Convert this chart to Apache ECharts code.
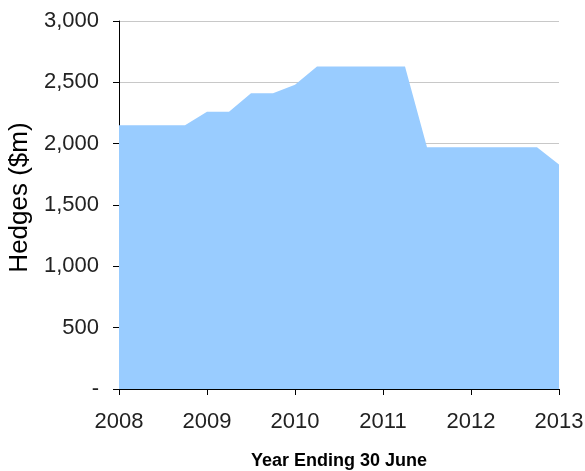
<!DOCTYPE html>
<html>
<head>
<meta charset="utf-8">
<script src="https://cdn.jsdelivr.net/npm/echarts@6/dist/echarts.min.js"></script>
<style>
  html, body { margin: 0; padding: 0; background: #fff; }
  #chart { width: 585px; height: 471px; }
</style>
</head>
<body>
<div id="chart"></div>
<script>
// Quarterly hedge positions (year ending 30 June)
const periods = [2008, 2008.25, 2008.5, 2008.75, 2009, 2009.25, 2009.5, 2009.75,
                 2010, 2010.25, 2010.5, 2010.75, 2011, 2011.25, 2011.5, 2011.75,
                 2012, 2012.25, 2012.5, 2012.75, 2013];
const hedges = [2150, 2150, 2150, 2150, 2260, 2260, 2410, 2410,
                2480, 2630, 2630, 2630, 2630, 2630, 1970, 1970,
                1970, 1970, 1970, 1970, 1830];
const yearTicks = [2008, 2009, 2010, 2011, 2012, 2013];

const font = '"Liberation Sans", Helvetica, Arial, sans-serif';
const chart = echarts.init(document.getElementById('chart'));

chart.setOption({
  animation: false,
  grid: { left: 119, right: 26, top: 21, bottom: 82, containLabel: false, outerBoundsMode: 'none' },
  xAxis: {
    type: 'value',
    min: 2008, max: 2013, interval: 1,
    name: 'Year Ending 30 June',
    nameLocation: 'middle',
    nameGap: 63,
    nameTextStyle: { fontFamily: font, fontSize: 18, fontWeight: 'bold', color: '#000' },
    axisLine: { lineStyle: { color: '#000', width: 1 } },
    axisTick: { show: true, length: 6, lineStyle: { color: '#000' } },
    axisLabel: {
      fontFamily: font, fontSize: 22, color: '#222', margin: 22,
      formatter: v => (yearTicks.includes(v) ? String(v) : '')
    },
    splitLine: { show: false }
  },
  yAxis: {
    type: 'value',
    min: 0, max: 3000, interval: 500,
    name: 'Hedges ($m)',
    nameLocation: 'middle',
    nameGap: 84,
    nameTextStyle: { fontFamily: font, fontSize: 26, color: '#000', padding: [0, 0, 0, 15] },
    axisLine: { show: true, lineStyle: { color: '#000', width: 1 } },
    axisTick: { show: true, length: 6, lineStyle: { color: '#000' } },
    axisLabel: {
      fontFamily: font, fontSize: 22, color: '#222', margin: 20,
      formatter: v => (v === 0 ? '-' : v.toLocaleString('en-US'))
    },
    splitLine: { show: true, lineStyle: { color: '#c8c8c8', width: 1 } }
  },
  series: [{
    type: 'line',
    data: periods.map((p, i) => [p, hedges[i]]),
    symbol: 'none',
    lineStyle: { width: 0, color: '#99ccff' },
    areaStyle: { color: '#99ccff', opacity: 1 },
    z: 1
  }]
});
</script>
</body>
</html>
